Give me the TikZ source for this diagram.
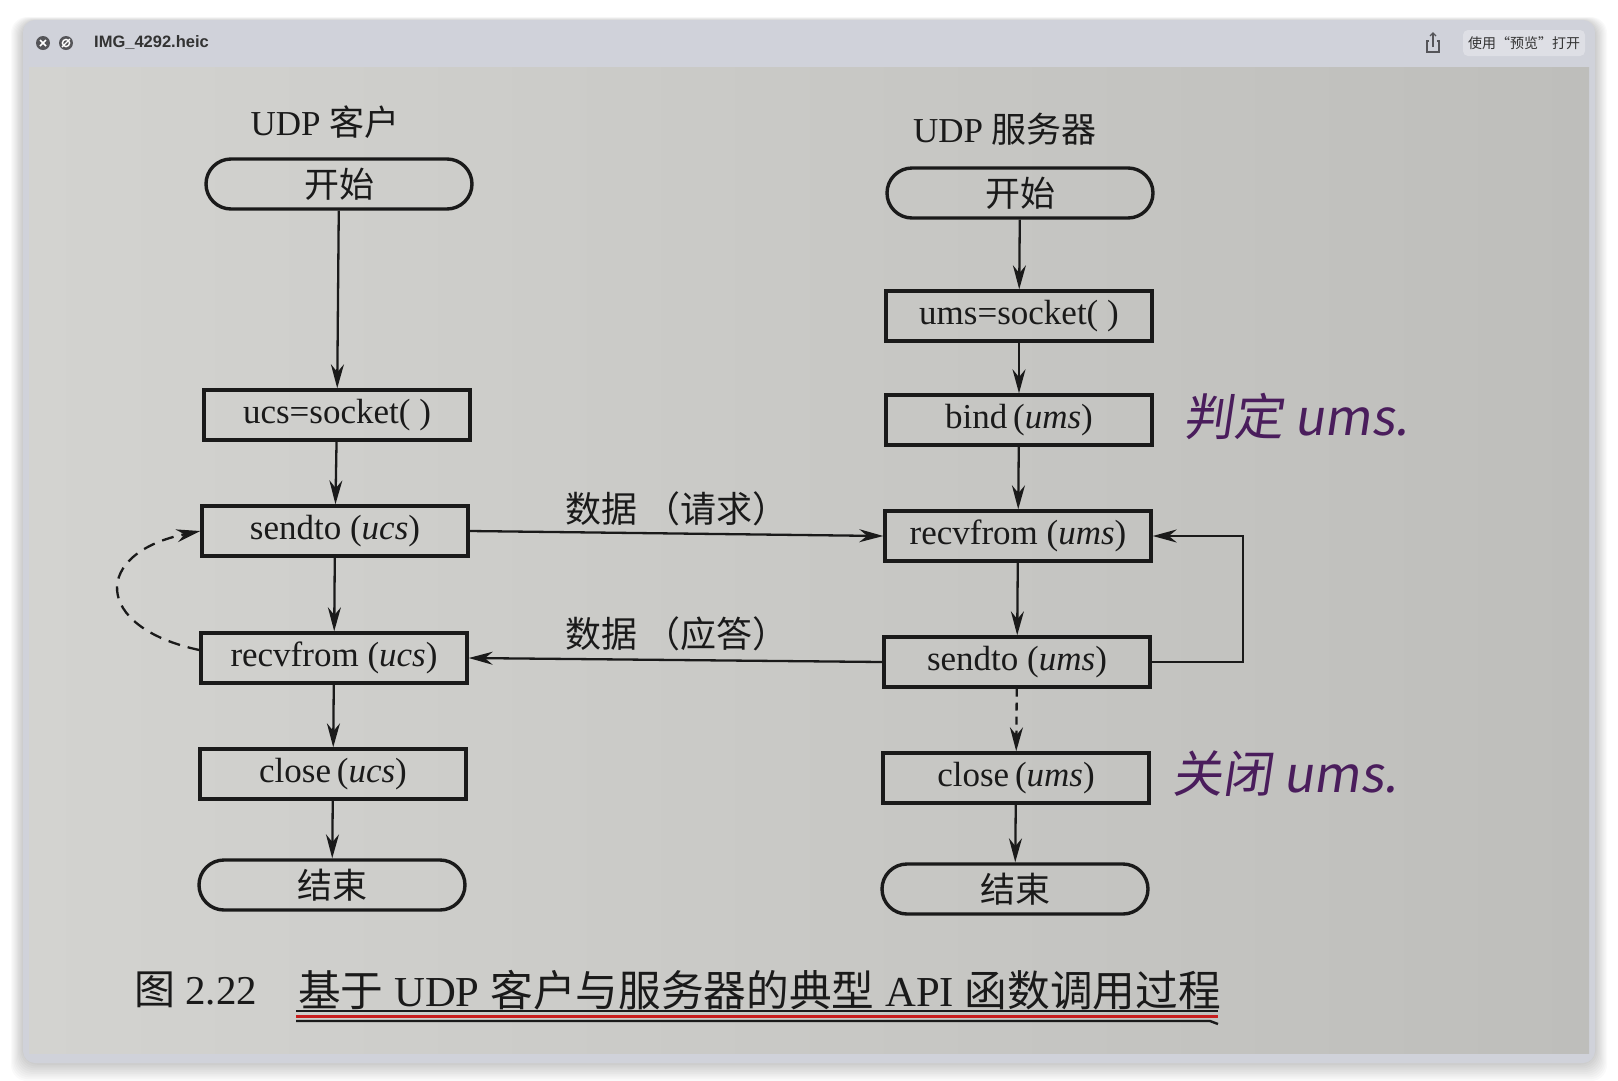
\documentclass[tikz,border=0pt]{standalone}
\usepackage{fontspec}
\setmainfont{Liberation Serif}
\newfontfamily\cjk{Noto Sans CJK SC}
\newfontfamily\uisans{Liberation Sans}
\newfontfamily\hand[FakeSlant=0.15]{Noto Sans CJK SC}
\usetikzlibrary{arrows.meta,calc}
\definecolor{ink}{HTML}{1A1A1A}
\definecolor{paperL}{HTML}{D3D3D0}
\definecolor{paperR}{HTML}{BEBEBB}
\definecolor{titlegray}{HTML}{D0D2DA}
\definecolor{icon}{HTML}{555559}
\definecolor{pen}{HTML}{4A1D5C}
\definecolor{redline}{HTML}{C81E1E}
\begin{document}
\begin{tikzpicture}[x=1pt,y=-1pt,
  box/.style={draw=ink, line width=3.4pt, minimum width=266pt, minimum height=50pt, inner sep=0pt, font=\fontsize{35}{40}\selectfont, text=ink},
  term/.style={box, rounded corners=25pt},
  arr/.style={draw=ink, line width=2.3pt, -{Stealth[length=24pt,width=13pt]}},
  lab/.style={font=\fontsize{35}{40}\selectfont, text=ink, inner sep=0pt},
  capt/.style={font=\fontsize{41}{46}\selectfont, text=ink, inner sep=0pt, anchor=west},
  note/.style={font=\hand\fontsize{50}{56}\selectfont, text=pen, inner sep=0pt},
]
\useasboundingbox (0,0) rectangle (1618,1080);
\fill[white] (0,0) rectangle (1618,1080);
% window shadow
\foreach \i in {1,...,10}
  \fill[black, opacity=0.018, rounded corners=16pt] (23-\i*1.2, 21-\i*0.4) rectangle (1595+\i*1.2, 1063+\i*1.8);
% window
\fill[titlegray, rounded corners=12pt] (23,20) rectangle (1595,1063);
\shade[left color=paperL, right color=paperR] (29,67) rectangle (1589,1053);
% title bar
\node[circle, fill=icon, minimum size=14pt, inner sep=0pt] (ic1) at (43,43) {};
\draw[white, line width=1.5pt] ($(ic1.center)+(-3,-3)$) -- ($(ic1.center)+(3,3)$);
\draw[white, line width=1.5pt] ($(ic1.center)+(-3,3)$) -- ($(ic1.center)+(3,-3)$);
\node[circle, fill=icon, minimum size=14pt, inner sep=0pt] (ic2) at (66,43) {};
\draw[white, line width=1.4pt] (ic2.center) circle (3.6pt);
\draw[white, line width=1.4pt] ($(ic2.center)+(-4,4)$) -- ($(ic2.center)+(4,-4)$);
\node[anchor=west, font=\uisans\bfseries\fontsize{16.5}{19}\selectfont, text=black!80, inner sep=0pt] (fname) at (94,43) {IMG\_4292.heic};
\coordinate (shr) at (1433,43);
\draw[icon, line width=1.2pt] ($(shr)+(-4,-2)$) -- ($(shr)+(-6,-2)$) -- ($(shr)+(-6,9)$) -- ($(shr)+(6,9)$) -- ($(shr)+(6,-2)$) -- ($(shr)+(4,-2)$);
\draw[icon, line width=1.2pt] ($(shr)+(0,4)$) -- ($(shr)+(0,-10)$);
\draw[icon, line width=1.2pt] ($(shr)+(-3,-7)$) -- ($(shr)+(0,-10)$) -- ($(shr)+(3,-7)$);
\node[fill=white, fill opacity=0.3, text opacity=1, rounded corners=5pt, minimum width=122pt, minimum height=26pt, inner sep=0pt, font=\cjk\fontsize{14}{16}\selectfont, text=black!80] (openbtn) at (1524,43) {使用“预览”打开};

% column headers
\node[lab] (hc) at (325,122) {UDP {\cjk 客户}};
\node[lab] (hs) at (1005,129) {UDP {\cjk 服务器}};

% client column
\node[term] (cs) at (339,184) {{\cjk 开始}};
\node[box] (csock) at (337,415) {ucs=socket(\ )};
\node[box] (csend) at (335,531) {sendto\ (\textit{ucs})};
\node[box] (crecv) at (334,658) {recvfrom\ (\textit{ucs})};
\node[box] (cclose) at (333,774) {close\,(\textit{ucs})};
\node[term] (ce) at (332,885) {{\cjk 结束}};

% server column
\node[term] (ss) at (1020,193) {{\cjk 开始}};
\node[box] (ssock) at (1019,316) {ums=socket(\ )};
\node[box] (sbind) at (1019,420) {bind\,(\textit{ums})};
\node[box] (srecv) at (1018,536) {recvfrom\ (\textit{ums})};
\node[box] (ssend) at (1017,662) {sendto\ (\textit{ums})};
\node[box] (sclose) at (1016,778) {close\,(\textit{ums})};
\node[term] (se) at (1015,889) {{\cjk 结束}};

% client arrows
\draw[arr] (cs) -- (csock);
\draw[arr] (csock) -- (csend);
\draw[arr] (csend) -- (crecv);
\draw[arr] (crecv) -- (cclose);
\draw[arr] (cclose) -- (ce);
\draw[arr, dash pattern=on 12pt off 8pt] ([yshift=8pt]crecv.west) .. controls (92,627) and (92,553) .. (csend.west);

% server arrows
\draw[arr] (ss) -- (ssock);
\draw[arr] (ssock) -- (sbind);
\draw[arr] (sbind) -- (srecv);
\draw[arr] (srecv) -- (ssend);
\draw[arr, dash pattern=on 8pt off 6pt] (ssend) -- (sclose);
\draw[arr] (sclose) -- (se);
\draw[arr] (ssend.east) -- ++(91,0) |- (srecv.east);

% exchange
\draw[arr] (csend.east) -- (srecv.west);
\node[lab, anchor=west, font=\fontsize{36}{40}\selectfont] (lreq) at (565,509) {{\cjk 数据\hspace{0.2em}（请求）}};
\draw[arr] (ssend.west) -- (crecv.east);
\node[lab, anchor=west, font=\fontsize{36}{40}\selectfont] (lresp) at (565,634) {{\cjk 数据\hspace{0.2em}（应答）}};

% handwritten notes
\node[note] (n1) at (1296,416) {判定 ums.};
\node[note] (n2) at (1285,774) {关闭 ums.};

% caption
\node[capt] (fig) at (134,990) {{\cjk 图} 2.22};
\node[capt, font=\fontsize{42.7}{48}\selectfont] (cap) at (298,990) {{\cjk 基于} UDP {\cjk 客户与服务器的典型} API {\cjk 函数调用过程}};
\draw[ink, line width=2.4pt] (296,1011) -- (1218,1011);
\draw[redline, line width=3pt] (296,1016) -- (1218,1016);
\draw[ink, line width=2.4pt] (296,1021) -- (1210,1021) -- (1218,1024);
\end{tikzpicture}
\end{document}
